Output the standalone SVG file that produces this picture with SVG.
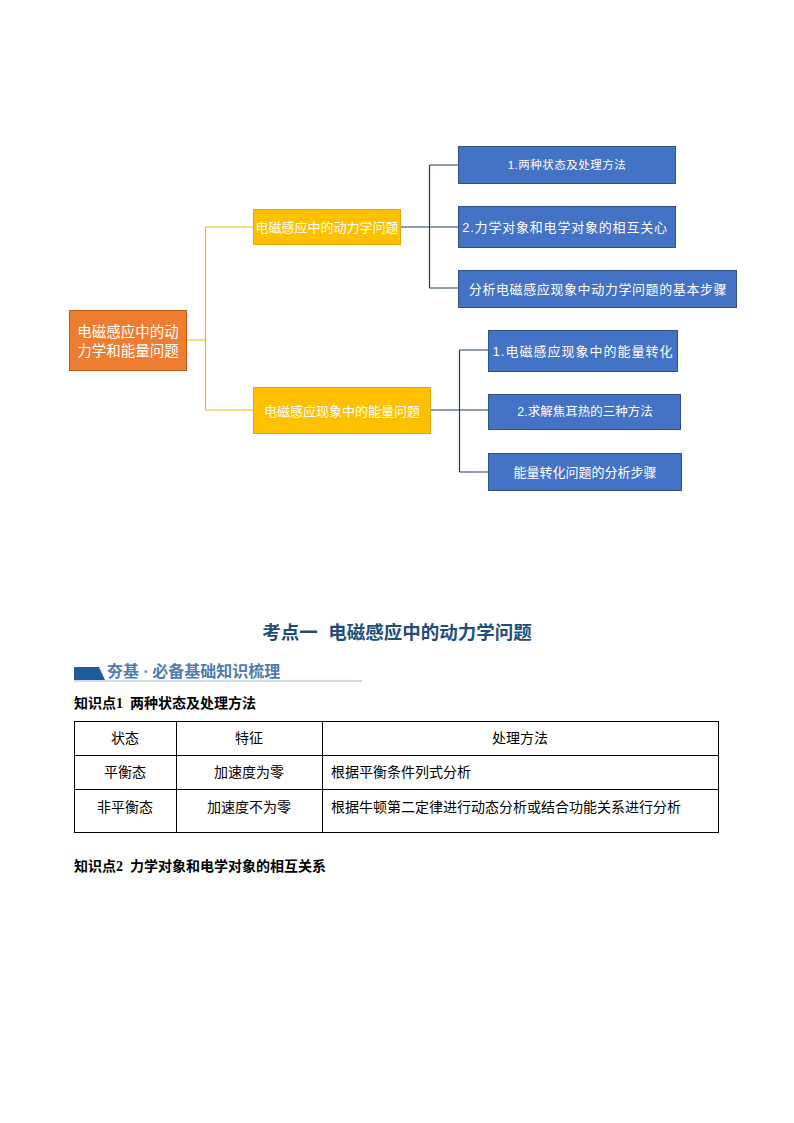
<svg xmlns="http://www.w3.org/2000/svg" width="794" height="1123" viewBox="0 0 794 1123">
<style>
.bl{fill:#4472C4;stroke:#2F528F;stroke-width:1}
.ye{fill:#FFC000;stroke:#E0A800;stroke-width:1}
.or{fill:#ED7D31;stroke:#C55A11;stroke-width:1}
.wt{fill:#fff;font-family:"Liberation Sans","Noto Sans CJK SC",sans-serif;text-anchor:middle;dominant-baseline:central}
.cy{fill:none;stroke:#F2B705;stroke-width:1.2}
.cb{fill:none;stroke:#1F3864;stroke-width:1.2}
.tb{fill:#000;font-family:"Liberation Sans","Noto Sans CJK SC",sans-serif;font-size:14px;dominant-baseline:central}
.tl{stroke:#000;stroke-width:1;fill:none}
.kn{fill:#000;font-family:"Liberation Serif","Noto Sans CJK SC",serif;font-size:14px;font-weight:bold}
</style>
<rect width="794" height="1123" fill="#fff"/>
<g id="connectors">
<path class="cy" d="M187,340 H205.5 M205.5,227 V410 M205.5,227 H253 M205.5,410 H253"/>
<path class="cb" d="M401,227 H429.5 M429.5,165 V288 M429.5,165 H458 M429.5,227 H458 M429.5,288 H458"/>
<path class="cb" d="M431,410 H459.5 M459.5,350 V472 M459.5,350 H488 M459.5,410 H488 M459.5,472 H488"/>
</g>
<g id="root"><rect class="or" x="69.5" y="310.5" width="117" height="60"/>
<text class="wt" x="128" y="331.5" font-size="14.5">电磁感应中的动</text>
<text class="wt" x="128" y="350.5" font-size="14.5">力学和能量问题</text></g>
<g id="n-dyn"><rect class="ye" x="253.5" y="209.5" width="147" height="35"/>
<text class="wt" x="327" y="227" font-size="13">电磁感应中的动力学问题</text></g>
<g id="n-eng"><rect class="ye" x="253.5" y="387.5" width="177" height="46"/>
<text class="wt" x="342" y="411" font-size="13">电磁感应现象中的能量问题</text></g>
<g id="d1"><rect class="bl" x="458.5" y="146.5" width="217" height="37"/>
<text class="wt" x="567" y="165" font-size="11.5" letter-spacing="0.5">1.两种状态及处理方法</text></g>
<g id="d2"><rect class="bl" x="458.5" y="206.5" width="217" height="41"/>
<text class="wt" x="565" y="227" font-size="13" letter-spacing="0.8">2.力学对象和电学对象的相互关心</text></g>
<g id="d3"><rect class="bl" x="458.5" y="270.5" width="278" height="37"/>
<text class="wt" x="598" y="289" font-size="13" letter-spacing="0.6">分析电磁感应现象中动力学问题的基本步骤</text></g>
<g id="e1"><rect class="bl" x="488.5" y="330.5" width="189" height="41"/>
<text class="wt" x="583" y="351" font-size="13" letter-spacing="1">1.电磁感应现象中的能量转化</text></g>
<g id="e2"><rect class="bl" x="488.5" y="394.5" width="192" height="35"/>
<text class="wt" x="585" y="412" font-size="12.5">2.求解焦耳热的三种方法</text></g>
<g id="e3"><rect class="bl" x="488.5" y="453.5" width="193" height="37"/>
<text class="wt" x="585" y="472" font-size="13">能量转化问题的分析步骤</text></g>
<text x="397" y="639" text-anchor="middle" font-family="Liberation Sans,'Noto Sans CJK SC',sans-serif" font-size="18.5" font-weight="bold" fill="#1F4E79" xml:space="preserve">考点一  电磁感应中的动力学问题</text>
<polygon points="74,667 99,667 105,680 74,680" fill="#1F5C99"/>
<line x1="74" y1="681" x2="362" y2="681" stroke="#9DB8D8" stroke-width="1"/>
<text x="107" y="677" font-family="'Liberation Serif','Noto Sans CJK SC',serif" font-size="16" font-weight="bold" fill="#4F7CAF" xml:space="preserve">夯基 · 必备基础知识梳理</text>
<text class="kn" x="74" y="708" xml:space="preserve">知识点1  两种状态及处理方法</text>
<g id="table">
<rect class="tl" x="74.5" y="721.5" width="644" height="111"/>
<path class="tl" d="M74.5,755.5 H718.5 M74.5,789.5 H718.5 M176.5,721.5 V832.5 M322.5,721.5 V832.5"/>
<text class="tb" x="125" y="738" text-anchor="middle">状态</text>
<text class="tb" x="249" y="738" text-anchor="middle">特征</text>
<text class="tb" x="520" y="738" text-anchor="middle">处理方法</text>
<text class="tb" x="125" y="772" text-anchor="middle">平衡态</text>
<text class="tb" x="249" y="772" text-anchor="middle">加速度为零</text>
<text class="tb" x="331" y="772">根据平衡条件列式分析</text>
<text class="tb" x="125" y="807" text-anchor="middle">非平衡态</text>
<text class="tb" x="249" y="807" text-anchor="middle">加速度不为零</text>
<text class="tb" x="331" y="807">根据牛顿第二定律进行动态分析或结合功能关系进行分析</text>
</g>
<text class="kn" x="74" y="871" xml:space="preserve">知识点2  力学对象和电学对象的相互关系</text>
</svg>
